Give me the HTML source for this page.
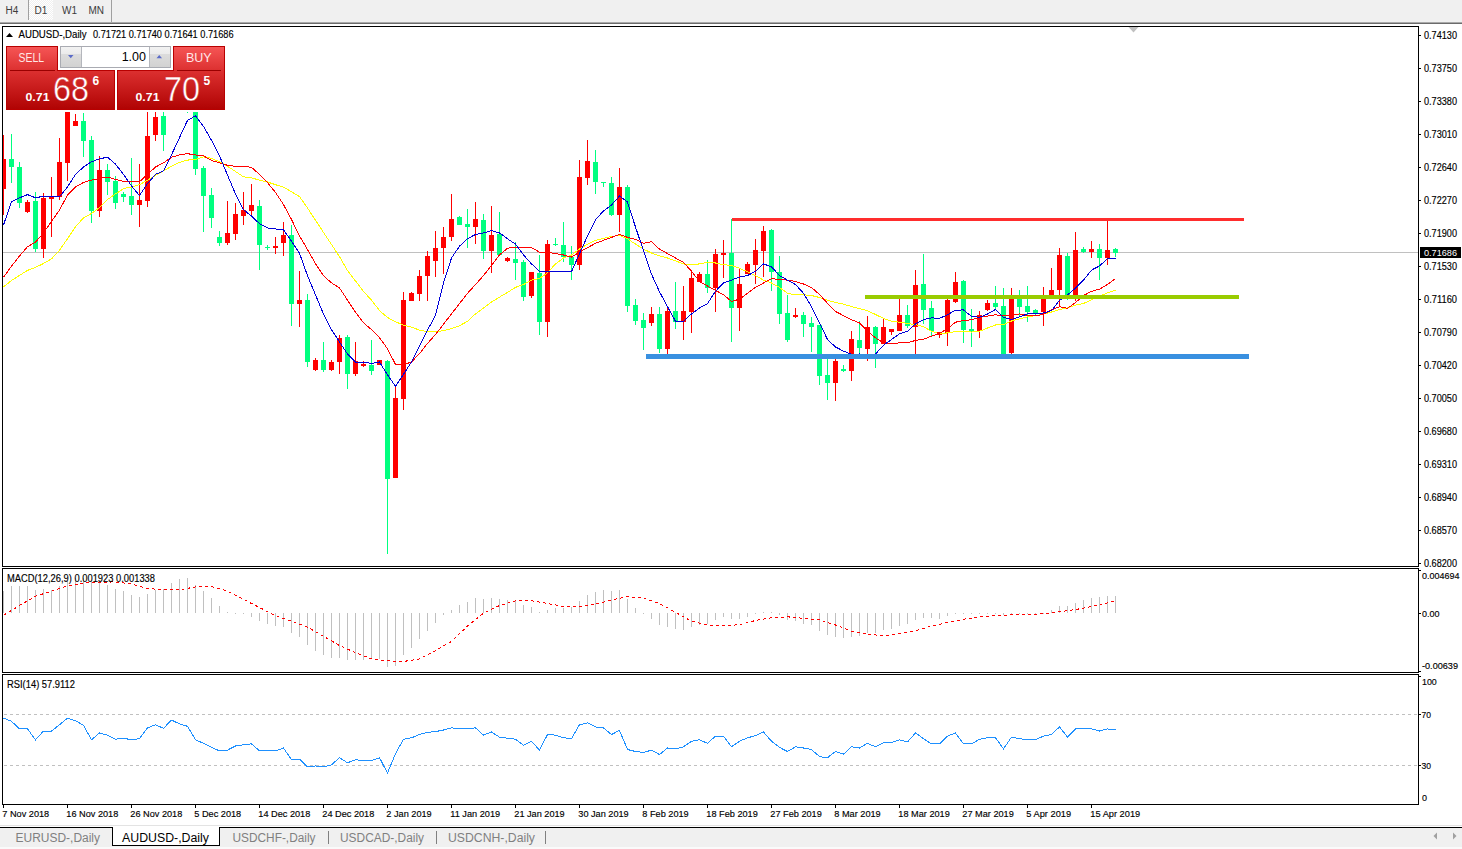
<!DOCTYPE html>
<html><head><meta charset="utf-8"><title>AUDUSD Daily</title>
<style>
html,body{margin:0;padding:0;background:#fff;}
body{width:1462px;height:849px;overflow:hidden;position:relative;font-family:"Liberation Sans", sans-serif;}
svg{position:absolute;left:0;top:0;}
.t{font-family:"Liberation Sans", sans-serif;} .b{stroke:#000;stroke-width:0.15;}
</style></head><body>
<svg width="1462" height="849" viewBox="0 0 1462 849">
<defs>
<clipPath id="cm"><rect x="3" y="27" width="1415" height="539"/></clipPath>
<clipPath id="cmacd"><rect x="3" y="569" width="1415" height="102"/></clipPath>
<clipPath id="crsi"><rect x="3" y="675" width="1415" height="129"/></clipPath>
<linearGradient id="gr" x1="0" y1="0" x2="0" y2="1">
<stop offset="0" stop-color="#f65656"/><stop offset="0.37" stop-color="#dd3131"/><stop offset="1" stop-color="#b00303"/>
</linearGradient>
<linearGradient id="gbtn" x1="0" y1="0" x2="0" y2="1">
<stop offset="0" stop-color="#f2f2f2"/><stop offset="0.35" stop-color="#ebebeb"/><stop offset="0.36" stop-color="#dcdcdc"/><stop offset="1" stop-color="#d2d2d2"/>
</linearGradient>
<linearGradient id="gru" gradientUnits="userSpaceOnUse" x1="0" y1="46" x2="0" y2="110">
<stop offset="0" stop-color="#f65656"/><stop offset="0.37" stop-color="#dd3131"/><stop offset="1" stop-color="#b00303"/>
</linearGradient>
<pattern id="dots" width="2" height="2" patternUnits="userSpaceOnUse"><rect width="2" height="2" fill="#f0f0f0"/><rect width="1" height="1" fill="#ffffff"/><rect x="1" y="1" width="1" height="1" fill="#ffffff"/></pattern>
</defs>

<g shape-rendering="crispEdges">
<rect x="0" y="0" width="1462" height="22" fill="#f0f0f0"/>
<rect x="0" y="22" width="1462" height="1" fill="#a9a9a9"/>
<rect x="0" y="23" width="1462" height="1" fill="#6b6b6b"/>
<rect x="29" y="0" width="24" height="20" fill="url(#dots)"/>
<rect x="28" y="0" width="1" height="20" fill="#a0a0a0"/>
<rect x="111" y="0" width="1" height="22" fill="#a0a0a0"/>
</g>
<text class="t" x="5.5" y="14" font-size="10" fill="#3c3c3c">H4</text>
<text class="t" x="34.5" y="14" font-size="10" fill="#3c3c3c">D1</text>
<text class="t" x="62" y="14" font-size="10" fill="#3c3c3c">W1</text>
<text class="t" x="88.5" y="14" font-size="10" fill="#3c3c3c">MN</text>
<g shape-rendering="crispEdges" fill="none" stroke="#000" stroke-width="1">
<rect x="2.5" y="26.5" width="1416" height="540"/>
<rect x="2.5" y="568.5" width="1416" height="104"/>
<rect x="2.5" y="674.5" width="1416" height="130"/>
</g>
<g shape-rendering="crispEdges" fill="#000">
<rect x="1419" y="35" width="2" height="1"/>
<rect x="1419" y="68" width="2" height="1"/>
<rect x="1419" y="101" width="2" height="1"/>
<rect x="1419" y="134" width="2" height="1"/>
<rect x="1419" y="167" width="2" height="1"/>
<rect x="1419" y="200" width="2" height="1"/>
<rect x="1419" y="233" width="2" height="1"/>
<rect x="1419" y="266" width="2" height="1"/>
<rect x="1419" y="299" width="2" height="1"/>
<rect x="1419" y="332" width="2" height="1"/>
<rect x="1419" y="365" width="2" height="1"/>
<rect x="1419" y="398" width="2" height="1"/>
<rect x="1419" y="431" width="2" height="1"/>
<rect x="1419" y="464" width="2" height="1"/>
<rect x="1419" y="497" width="2" height="1"/>
<rect x="1419" y="530" width="2" height="1"/>
<rect x="1419" y="563" width="2" height="1"/>
</g>
<text class="t b" x="1424" y="39" font-size="10" fill="#000" textLength="33" lengthAdjust="spacingAndGlyphs">0.74130</text>
<text class="t b" x="1424" y="72" font-size="10" fill="#000" textLength="33" lengthAdjust="spacingAndGlyphs">0.73750</text>
<text class="t b" x="1424" y="105" font-size="10" fill="#000" textLength="33" lengthAdjust="spacingAndGlyphs">0.73380</text>
<text class="t b" x="1424" y="138" font-size="10" fill="#000" textLength="33" lengthAdjust="spacingAndGlyphs">0.73010</text>
<text class="t b" x="1424" y="171" font-size="10" fill="#000" textLength="33" lengthAdjust="spacingAndGlyphs">0.72640</text>
<text class="t b" x="1424" y="204" font-size="10" fill="#000" textLength="33" lengthAdjust="spacingAndGlyphs">0.72270</text>
<text class="t b" x="1424" y="237" font-size="10" fill="#000" textLength="33" lengthAdjust="spacingAndGlyphs">0.71900</text>
<text class="t b" x="1424" y="270" font-size="10" fill="#000" textLength="33" lengthAdjust="spacingAndGlyphs">0.71530</text>
<text class="t b" x="1424" y="303" font-size="10" fill="#000" textLength="33" lengthAdjust="spacingAndGlyphs">0.71160</text>
<text class="t b" x="1424" y="336" font-size="10" fill="#000" textLength="33" lengthAdjust="spacingAndGlyphs">0.70790</text>
<text class="t b" x="1424" y="369" font-size="10" fill="#000" textLength="33" lengthAdjust="spacingAndGlyphs">0.70420</text>
<text class="t b" x="1424" y="402" font-size="10" fill="#000" textLength="33" lengthAdjust="spacingAndGlyphs">0.70050</text>
<text class="t b" x="1424" y="435" font-size="10" fill="#000" textLength="33" lengthAdjust="spacingAndGlyphs">0.69680</text>
<text class="t b" x="1424" y="468" font-size="10" fill="#000" textLength="33" lengthAdjust="spacingAndGlyphs">0.69310</text>
<text class="t b" x="1424" y="501" font-size="10" fill="#000" textLength="33" lengthAdjust="spacingAndGlyphs">0.68940</text>
<text class="t b" x="1424" y="534" font-size="10" fill="#000" textLength="33" lengthAdjust="spacingAndGlyphs">0.68570</text>
<text class="t b" x="1424" y="567" font-size="10" fill="#000" textLength="33" lengthAdjust="spacingAndGlyphs">0.68200</text>
<rect x="3" y="252" width="1415" height="1" fill="#c0c0c0" shape-rendering="crispEdges"/>
<rect x="1420" y="247" width="41" height="11" fill="#000" shape-rendering="crispEdges"/>
<text class="t" x="1424" y="255.5" font-size="9.7" fill="#fff" textLength="33" lengthAdjust="spacingAndGlyphs">0.71686</text>
<g shape-rendering="crispEdges" fill="#000">
<rect x="1419" y="570" width="2" height="1"/>
<rect x="1419" y="613" width="2" height="1"/>
<rect x="1419" y="671" width="2" height="1"/>
<rect x="1419" y="676" width="2" height="1"/>
</g>
<text class="t b" x="1422" y="578.5" font-size="9.7" fill="#000" textLength="37.5" lengthAdjust="spacingAndGlyphs">0.004694</text>
<text class="t b" x="1422" y="616.8" font-size="9.7" fill="#000" textLength="17.5" lengthAdjust="spacingAndGlyphs">0.00</text>
<text class="t b" x="1422" y="668.6" font-size="9.7" fill="#000" textLength="36" lengthAdjust="spacingAndGlyphs">-0.00639</text>
<text class="t b" x="1422" y="685" font-size="9.7" fill="#000" textLength="14.8" lengthAdjust="spacingAndGlyphs">100</text>
<text class="t b" x="1421.5" y="718" font-size="9.7" fill="#000" textLength="9.5" lengthAdjust="spacingAndGlyphs">70</text>
<text class="t b" x="1421.5" y="769" font-size="9.7" fill="#000" textLength="9.5" lengthAdjust="spacingAndGlyphs">30</text>
<text class="t b" x="1422" y="801" font-size="9.7" fill="#000" textLength="5" lengthAdjust="spacingAndGlyphs">0</text>
<g shape-rendering="crispEdges" fill="#000">
<rect x="1419" y="714" width="2" height="1"/>
<rect x="1419" y="765" width="2" height="1"/>
</g>
<g shape-rendering="crispEdges" fill="#000">
<rect x="3" y="805" width="1" height="3"/>
<rect x="67" y="805" width="1" height="3"/>
<rect x="131" y="805" width="1" height="3"/>
<rect x="195" y="805" width="1" height="3"/>
<rect x="259" y="805" width="1" height="3"/>
<rect x="323" y="805" width="1" height="3"/>
<rect x="387" y="805" width="1" height="3"/>
<rect x="451" y="805" width="1" height="3"/>
<rect x="515" y="805" width="1" height="3"/>
<rect x="579" y="805" width="1" height="3"/>
<rect x="643" y="805" width="1" height="3"/>
<rect x="707" y="805" width="1" height="3"/>
<rect x="771" y="805" width="1" height="3"/>
<rect x="835" y="805" width="1" height="3"/>
<rect x="899" y="805" width="1" height="3"/>
<rect x="963" y="805" width="1" height="3"/>
<rect x="1027" y="805" width="1" height="3"/>
<rect x="1091" y="805" width="1" height="3"/>
</g>
<text class="t b" x="2.3" y="817" font-size="9.7" fill="#000" textLength="46.9" lengthAdjust="spacingAndGlyphs">7 Nov 2018</text>
<text class="t b" x="66.3" y="817" font-size="9.7" fill="#000" textLength="52.0" lengthAdjust="spacingAndGlyphs">16 Nov 2018</text>
<text class="t b" x="130.3" y="817" font-size="9.7" fill="#000" textLength="52.0" lengthAdjust="spacingAndGlyphs">26 Nov 2018</text>
<text class="t b" x="194.3" y="817" font-size="9.7" fill="#000" textLength="46.9" lengthAdjust="spacingAndGlyphs">5 Dec 2018</text>
<text class="t b" x="258.3" y="817" font-size="9.7" fill="#000" textLength="52.0" lengthAdjust="spacingAndGlyphs">14 Dec 2018</text>
<text class="t b" x="322.3" y="817" font-size="9.7" fill="#000" textLength="52.0" lengthAdjust="spacingAndGlyphs">24 Dec 2018</text>
<text class="t b" x="386.3" y="817" font-size="9.7" fill="#000" textLength="45.4" lengthAdjust="spacingAndGlyphs">2 Jan 2019</text>
<text class="t b" x="450.3" y="817" font-size="9.7" fill="#000" textLength="49.8" lengthAdjust="spacingAndGlyphs">11 Jan 2019</text>
<text class="t b" x="514.3" y="817" font-size="9.7" fill="#000" textLength="50.4" lengthAdjust="spacingAndGlyphs">21 Jan 2019</text>
<text class="t b" x="578.3" y="817" font-size="9.7" fill="#000" textLength="50.4" lengthAdjust="spacingAndGlyphs">30 Jan 2019</text>
<text class="t b" x="642.3" y="817" font-size="9.7" fill="#000" textLength="46.4" lengthAdjust="spacingAndGlyphs">8 Feb 2019</text>
<text class="t b" x="706.3" y="817" font-size="9.7" fill="#000" textLength="51.5" lengthAdjust="spacingAndGlyphs">18 Feb 2019</text>
<text class="t b" x="770.3" y="817" font-size="9.7" fill="#000" textLength="51.5" lengthAdjust="spacingAndGlyphs">27 Feb 2019</text>
<text class="t b" x="834.3" y="817" font-size="9.7" fill="#000" textLength="46.4" lengthAdjust="spacingAndGlyphs">8 Mar 2019</text>
<text class="t b" x="898.3" y="817" font-size="9.7" fill="#000" textLength="51.5" lengthAdjust="spacingAndGlyphs">18 Mar 2019</text>
<text class="t b" x="962.3" y="817" font-size="9.7" fill="#000" textLength="51.5" lengthAdjust="spacingAndGlyphs">27 Mar 2019</text>
<text class="t b" x="1026.3" y="817" font-size="9.7" fill="#000" textLength="44.8" lengthAdjust="spacingAndGlyphs">5 Apr 2019</text>
<text class="t b" x="1090.3" y="817" font-size="9.7" fill="#000" textLength="49.9" lengthAdjust="spacingAndGlyphs">15 Apr 2019</text>
<g clip-path="url(#cm)">
<g shape-rendering="crispEdges">
<rect x="3" y="135" width="1" height="80" fill="#ff0000"/>
<rect x="1" y="159" width="5" height="30" fill="#ff0000"/>
<rect x="11" y="134" width="1" height="49" fill="#00ff7f"/>
<rect x="9" y="159" width="5" height="8" fill="#00ff7f"/>
<rect x="19" y="162" width="1" height="46" fill="#00ff7f"/>
<rect x="17" y="167" width="5" height="36" fill="#00ff7f"/>
<rect x="27" y="200" width="1" height="13" fill="#ff0000"/>
<rect x="25" y="202" width="5" height="10" fill="#ff0000"/>
<rect x="35" y="192" width="1" height="60" fill="#00ff7f"/>
<rect x="33" y="201" width="5" height="48" fill="#00ff7f"/>
<rect x="43" y="193" width="1" height="65" fill="#ff0000"/>
<rect x="41" y="198" width="5" height="51" fill="#ff0000"/>
<rect x="51" y="177" width="1" height="60" fill="#ff0000"/>
<rect x="49" y="197" width="5" height="2" fill="#ff0000"/>
<rect x="59" y="138" width="1" height="62" fill="#ff0000"/>
<rect x="57" y="162" width="5" height="35" fill="#ff0000"/>
<rect x="67" y="100" width="1" height="81" fill="#ff0000"/>
<rect x="65" y="105" width="5" height="58" fill="#ff0000"/>
<rect x="75" y="114" width="1" height="12" fill="#ff0000"/>
<rect x="73" y="121" width="5" height="5" fill="#ff0000"/>
<rect x="83" y="113" width="1" height="44" fill="#00ff7f"/>
<rect x="81" y="121" width="5" height="20" fill="#00ff7f"/>
<rect x="91" y="136" width="1" height="87" fill="#00ff7f"/>
<rect x="89" y="140" width="5" height="71" fill="#00ff7f"/>
<rect x="99" y="156" width="1" height="61" fill="#ff0000"/>
<rect x="97" y="170" width="5" height="41" fill="#ff0000"/>
<rect x="107" y="164" width="1" height="31" fill="#00ff7f"/>
<rect x="105" y="170" width="5" height="12" fill="#00ff7f"/>
<rect x="115" y="176" width="1" height="33" fill="#00ff7f"/>
<rect x="113" y="181" width="5" height="22" fill="#00ff7f"/>
<rect x="123" y="192" width="1" height="10" fill="#00ff7f"/>
<rect x="121" y="194" width="5" height="3" fill="#00ff7f"/>
<rect x="131" y="158" width="1" height="57" fill="#00ff7f"/>
<rect x="129" y="196" width="5" height="9" fill="#00ff7f"/>
<rect x="139" y="164" width="1" height="63" fill="#ff0000"/>
<rect x="137" y="200" width="5" height="5" fill="#ff0000"/>
<rect x="147" y="100" width="1" height="107" fill="#ff0000"/>
<rect x="145" y="136" width="5" height="65" fill="#ff0000"/>
<rect x="155" y="100" width="1" height="41" fill="#ff0000"/>
<rect x="153" y="117" width="5" height="18" fill="#ff0000"/>
<rect x="163" y="100" width="1" height="51" fill="#00ff7f"/>
<rect x="161" y="116" width="5" height="19" fill="#00ff7f"/>
<rect x="171" y="60" width="1" height="30" fill="#00ff7f"/>
<rect x="169" y="70" width="5" height="10" fill="#00ff7f"/>
<rect x="179" y="60" width="1" height="30" fill="#ff0000"/>
<rect x="177" y="70" width="5" height="10" fill="#ff0000"/>
<rect x="187" y="60" width="1" height="53" fill="#00ff7f"/>
<rect x="185" y="70" width="5" height="20" fill="#00ff7f"/>
<rect x="195" y="100" width="1" height="75" fill="#00ff7f"/>
<rect x="193" y="100" width="5" height="69" fill="#00ff7f"/>
<rect x="203" y="166" width="1" height="66" fill="#00ff7f"/>
<rect x="201" y="168" width="5" height="28" fill="#00ff7f"/>
<rect x="211" y="188" width="1" height="40" fill="#00ff7f"/>
<rect x="209" y="195" width="5" height="23" fill="#00ff7f"/>
<rect x="219" y="231" width="1" height="15" fill="#00ff7f"/>
<rect x="217" y="237" width="5" height="6" fill="#00ff7f"/>
<rect x="227" y="201" width="1" height="44" fill="#ff0000"/>
<rect x="225" y="233" width="5" height="10" fill="#ff0000"/>
<rect x="235" y="203" width="1" height="37" fill="#ff0000"/>
<rect x="233" y="214" width="5" height="20" fill="#ff0000"/>
<rect x="243" y="192" width="1" height="33" fill="#ff0000"/>
<rect x="241" y="210" width="5" height="6" fill="#ff0000"/>
<rect x="251" y="184" width="1" height="31" fill="#ff0000"/>
<rect x="249" y="205" width="5" height="6" fill="#ff0000"/>
<rect x="259" y="200" width="1" height="70" fill="#00ff7f"/>
<rect x="257" y="206" width="5" height="39" fill="#00ff7f"/>
<rect x="267" y="245" width="1" height="5" fill="#00ff7f"/>
<rect x="265" y="247" width="5" height="1" fill="#00ff7f"/>
<rect x="275" y="237" width="1" height="17" fill="#ff0000"/>
<rect x="273" y="246" width="5" height="2" fill="#ff0000"/>
<rect x="283" y="222" width="1" height="34" fill="#ff0000"/>
<rect x="281" y="235" width="5" height="8" fill="#ff0000"/>
<rect x="291" y="225" width="1" height="101" fill="#00ff7f"/>
<rect x="289" y="235" width="5" height="69" fill="#00ff7f"/>
<rect x="299" y="271" width="1" height="56" fill="#ff0000"/>
<rect x="297" y="300" width="5" height="4" fill="#ff0000"/>
<rect x="307" y="294" width="1" height="73" fill="#00ff7f"/>
<rect x="305" y="300" width="5" height="62" fill="#00ff7f"/>
<rect x="315" y="358" width="1" height="13" fill="#ff0000"/>
<rect x="313" y="360" width="5" height="10" fill="#ff0000"/>
<rect x="323" y="342" width="1" height="30" fill="#00ff7f"/>
<rect x="321" y="360" width="5" height="10" fill="#00ff7f"/>
<rect x="331" y="360" width="1" height="11" fill="#ff0000"/>
<rect x="329" y="362" width="5" height="8" fill="#ff0000"/>
<rect x="339" y="335" width="1" height="39" fill="#ff0000"/>
<rect x="337" y="338" width="5" height="24" fill="#ff0000"/>
<rect x="347" y="335" width="1" height="54" fill="#00ff7f"/>
<rect x="345" y="337" width="5" height="37" fill="#00ff7f"/>
<rect x="355" y="342" width="1" height="34" fill="#ff0000"/>
<rect x="353" y="361" width="5" height="13" fill="#ff0000"/>
<rect x="363" y="361" width="1" height="6" fill="#ff0000"/>
<rect x="361" y="364" width="5" height="2" fill="#ff0000"/>
<rect x="371" y="340" width="1" height="35" fill="#00ff7f"/>
<rect x="369" y="365" width="5" height="6" fill="#00ff7f"/>
<rect x="379" y="360" width="1" height="5" fill="#ff0000"/>
<rect x="377" y="360" width="5" height="5" fill="#ff0000"/>
<rect x="387" y="360" width="1" height="194" fill="#00ff7f"/>
<rect x="385" y="361" width="5" height="118" fill="#00ff7f"/>
<rect x="395" y="386" width="1" height="92" fill="#ff0000"/>
<rect x="393" y="398" width="5" height="80" fill="#ff0000"/>
<rect x="403" y="292" width="1" height="118" fill="#ff0000"/>
<rect x="401" y="300" width="5" height="99" fill="#ff0000"/>
<rect x="411" y="292" width="1" height="9" fill="#ff0000"/>
<rect x="409" y="293" width="5" height="8" fill="#ff0000"/>
<rect x="419" y="270" width="1" height="31" fill="#ff0000"/>
<rect x="417" y="276" width="5" height="18" fill="#ff0000"/>
<rect x="427" y="251" width="1" height="50" fill="#ff0000"/>
<rect x="425" y="256" width="5" height="20" fill="#ff0000"/>
<rect x="435" y="231" width="1" height="46" fill="#ff0000"/>
<rect x="433" y="248" width="5" height="13" fill="#ff0000"/>
<rect x="443" y="227" width="1" height="47" fill="#ff0000"/>
<rect x="441" y="237" width="5" height="11" fill="#ff0000"/>
<rect x="451" y="194" width="1" height="47" fill="#ff0000"/>
<rect x="449" y="219" width="5" height="18" fill="#ff0000"/>
<rect x="459" y="216" width="1" height="9" fill="#00ff7f"/>
<rect x="457" y="217" width="5" height="8" fill="#00ff7f"/>
<rect x="467" y="209" width="1" height="39" fill="#00ff7f"/>
<rect x="465" y="224" width="5" height="3" fill="#00ff7f"/>
<rect x="475" y="202" width="1" height="42" fill="#ff0000"/>
<rect x="473" y="219" width="5" height="8" fill="#ff0000"/>
<rect x="483" y="214" width="1" height="45" fill="#00ff7f"/>
<rect x="481" y="220" width="5" height="31" fill="#00ff7f"/>
<rect x="491" y="206" width="1" height="67" fill="#ff0000"/>
<rect x="489" y="235" width="5" height="16" fill="#ff0000"/>
<rect x="499" y="212" width="1" height="43" fill="#00ff7f"/>
<rect x="497" y="234" width="5" height="21" fill="#00ff7f"/>
<rect x="507" y="257" width="1" height="5" fill="#ff0000"/>
<rect x="505" y="258" width="5" height="3" fill="#ff0000"/>
<rect x="515" y="242" width="1" height="38" fill="#00ff7f"/>
<rect x="513" y="259" width="5" height="4" fill="#00ff7f"/>
<rect x="523" y="260" width="1" height="41" fill="#00ff7f"/>
<rect x="521" y="262" width="5" height="35" fill="#00ff7f"/>
<rect x="531" y="272" width="1" height="26" fill="#ff0000"/>
<rect x="529" y="272" width="5" height="24" fill="#ff0000"/>
<rect x="539" y="255" width="1" height="80" fill="#00ff7f"/>
<rect x="537" y="273" width="5" height="49" fill="#00ff7f"/>
<rect x="547" y="240" width="1" height="97" fill="#ff0000"/>
<rect x="545" y="244" width="5" height="78" fill="#ff0000"/>
<rect x="555" y="238" width="1" height="8" fill="#00ff7f"/>
<rect x="553" y="244" width="5" height="1" fill="#00ff7f"/>
<rect x="563" y="222" width="1" height="40" fill="#00ff7f"/>
<rect x="561" y="245" width="5" height="12" fill="#00ff7f"/>
<rect x="571" y="246" width="1" height="34" fill="#00ff7f"/>
<rect x="569" y="257" width="5" height="8" fill="#00ff7f"/>
<rect x="579" y="160" width="1" height="110" fill="#ff0000"/>
<rect x="577" y="177" width="5" height="88" fill="#ff0000"/>
<rect x="587" y="140" width="1" height="45" fill="#ff0000"/>
<rect x="585" y="161" width="5" height="17" fill="#ff0000"/>
<rect x="595" y="150" width="1" height="44" fill="#00ff7f"/>
<rect x="593" y="162" width="5" height="20" fill="#00ff7f"/>
<rect x="603" y="182" width="1" height="5" fill="#00ff7f"/>
<rect x="601" y="182" width="5" height="1" fill="#00ff7f"/>
<rect x="611" y="177" width="1" height="39" fill="#00ff7f"/>
<rect x="609" y="183" width="5" height="32" fill="#00ff7f"/>
<rect x="619" y="168" width="1" height="64" fill="#ff0000"/>
<rect x="617" y="187" width="5" height="28" fill="#ff0000"/>
<rect x="627" y="185" width="1" height="127" fill="#00ff7f"/>
<rect x="625" y="187" width="5" height="119" fill="#00ff7f"/>
<rect x="635" y="299" width="1" height="26" fill="#00ff7f"/>
<rect x="633" y="305" width="5" height="16" fill="#00ff7f"/>
<rect x="643" y="313" width="1" height="37" fill="#00ff7f"/>
<rect x="641" y="320" width="5" height="8" fill="#00ff7f"/>
<rect x="651" y="307" width="1" height="19" fill="#ff0000"/>
<rect x="649" y="314" width="5" height="9" fill="#ff0000"/>
<rect x="659" y="307" width="1" height="46" fill="#00ff7f"/>
<rect x="657" y="314" width="5" height="35" fill="#00ff7f"/>
<rect x="667" y="307" width="1" height="47" fill="#ff0000"/>
<rect x="665" y="311" width="5" height="38" fill="#ff0000"/>
<rect x="675" y="282" width="1" height="47" fill="#00ff7f"/>
<rect x="673" y="311" width="5" height="11" fill="#00ff7f"/>
<rect x="683" y="286" width="1" height="54" fill="#ff0000"/>
<rect x="681" y="311" width="5" height="11" fill="#ff0000"/>
<rect x="691" y="271" width="1" height="62" fill="#ff0000"/>
<rect x="689" y="278" width="5" height="34" fill="#ff0000"/>
<rect x="699" y="272" width="1" height="10" fill="#ff0000"/>
<rect x="697" y="274" width="5" height="8" fill="#ff0000"/>
<rect x="707" y="260" width="1" height="33" fill="#00ff7f"/>
<rect x="705" y="274" width="5" height="14" fill="#00ff7f"/>
<rect x="715" y="249" width="1" height="63" fill="#ff0000"/>
<rect x="713" y="254" width="5" height="34" fill="#ff0000"/>
<rect x="723" y="240" width="1" height="38" fill="#ff0000"/>
<rect x="721" y="253" width="5" height="2" fill="#ff0000"/>
<rect x="731" y="219" width="1" height="123" fill="#00ff7f"/>
<rect x="729" y="253" width="5" height="55" fill="#00ff7f"/>
<rect x="739" y="269" width="1" height="62" fill="#ff0000"/>
<rect x="737" y="284" width="5" height="24" fill="#ff0000"/>
<rect x="747" y="262" width="1" height="12" fill="#ff0000"/>
<rect x="745" y="264" width="5" height="10" fill="#ff0000"/>
<rect x="755" y="239" width="1" height="45" fill="#ff0000"/>
<rect x="753" y="250" width="5" height="15" fill="#ff0000"/>
<rect x="763" y="226" width="1" height="51" fill="#ff0000"/>
<rect x="761" y="231" width="5" height="20" fill="#ff0000"/>
<rect x="771" y="229" width="1" height="62" fill="#00ff7f"/>
<rect x="769" y="230" width="5" height="42" fill="#00ff7f"/>
<rect x="779" y="256" width="1" height="68" fill="#00ff7f"/>
<rect x="777" y="272" width="5" height="42" fill="#00ff7f"/>
<rect x="787" y="295" width="1" height="47" fill="#00ff7f"/>
<rect x="785" y="313" width="5" height="27" fill="#00ff7f"/>
<rect x="795" y="308" width="1" height="10" fill="#ff0000"/>
<rect x="793" y="315" width="5" height="2" fill="#ff0000"/>
<rect x="803" y="312" width="1" height="25" fill="#00ff7f"/>
<rect x="801" y="315" width="5" height="9" fill="#00ff7f"/>
<rect x="811" y="317" width="1" height="35" fill="#00ff7f"/>
<rect x="809" y="323" width="5" height="4" fill="#00ff7f"/>
<rect x="819" y="325" width="1" height="60" fill="#00ff7f"/>
<rect x="817" y="325" width="5" height="51" fill="#00ff7f"/>
<rect x="827" y="354" width="1" height="46" fill="#00ff7f"/>
<rect x="825" y="375" width="5" height="8" fill="#00ff7f"/>
<rect x="835" y="359" width="1" height="42" fill="#ff0000"/>
<rect x="833" y="361" width="5" height="22" fill="#ff0000"/>
<rect x="843" y="365" width="1" height="7" fill="#00ff7f"/>
<rect x="841" y="369" width="5" height="2" fill="#00ff7f"/>
<rect x="851" y="331" width="1" height="50" fill="#ff0000"/>
<rect x="849" y="339" width="5" height="32" fill="#ff0000"/>
<rect x="859" y="321" width="1" height="33" fill="#00ff7f"/>
<rect x="857" y="340" width="5" height="8" fill="#00ff7f"/>
<rect x="867" y="316" width="1" height="45" fill="#ff0000"/>
<rect x="865" y="327" width="5" height="22" fill="#ff0000"/>
<rect x="875" y="326" width="1" height="42" fill="#00ff7f"/>
<rect x="873" y="327" width="5" height="17" fill="#00ff7f"/>
<rect x="883" y="318" width="1" height="26" fill="#ff0000"/>
<rect x="881" y="327" width="5" height="17" fill="#ff0000"/>
<rect x="891" y="329" width="1" height="6" fill="#ff0000"/>
<rect x="889" y="329" width="5" height="3" fill="#ff0000"/>
<rect x="899" y="299" width="1" height="32" fill="#ff0000"/>
<rect x="897" y="315" width="5" height="16" fill="#ff0000"/>
<rect x="907" y="305" width="1" height="23" fill="#00ff7f"/>
<rect x="905" y="315" width="5" height="11" fill="#00ff7f"/>
<rect x="915" y="270" width="1" height="84" fill="#ff0000"/>
<rect x="913" y="285" width="5" height="42" fill="#ff0000"/>
<rect x="923" y="254" width="1" height="70" fill="#00ff7f"/>
<rect x="921" y="284" width="5" height="26" fill="#00ff7f"/>
<rect x="931" y="301" width="1" height="35" fill="#00ff7f"/>
<rect x="929" y="308" width="5" height="23" fill="#00ff7f"/>
<rect x="939" y="332" width="1" height="6" fill="#ff0000"/>
<rect x="937" y="332" width="5" height="3" fill="#ff0000"/>
<rect x="947" y="299" width="1" height="47" fill="#ff0000"/>
<rect x="945" y="300" width="5" height="33" fill="#ff0000"/>
<rect x="955" y="272" width="1" height="31" fill="#ff0000"/>
<rect x="953" y="282" width="5" height="20" fill="#ff0000"/>
<rect x="963" y="280" width="1" height="63" fill="#00ff7f"/>
<rect x="961" y="281" width="5" height="49" fill="#00ff7f"/>
<rect x="971" y="309" width="1" height="38" fill="#00ff7f"/>
<rect x="969" y="329" width="5" height="2" fill="#00ff7f"/>
<rect x="979" y="311" width="1" height="27" fill="#ff0000"/>
<rect x="977" y="315" width="5" height="16" fill="#ff0000"/>
<rect x="987" y="300" width="1" height="11" fill="#ff0000"/>
<rect x="985" y="303" width="5" height="7" fill="#ff0000"/>
<rect x="995" y="286" width="1" height="23" fill="#00ff7f"/>
<rect x="993" y="303" width="5" height="4" fill="#00ff7f"/>
<rect x="1003" y="288" width="1" height="66" fill="#00ff7f"/>
<rect x="1001" y="306" width="5" height="48" fill="#00ff7f"/>
<rect x="1011" y="288" width="1" height="66" fill="#ff0000"/>
<rect x="1009" y="299" width="5" height="54" fill="#ff0000"/>
<rect x="1019" y="290" width="1" height="26" fill="#00ff7f"/>
<rect x="1017" y="299" width="5" height="8" fill="#00ff7f"/>
<rect x="1027" y="286" width="1" height="36" fill="#00ff7f"/>
<rect x="1025" y="306" width="5" height="6" fill="#00ff7f"/>
<rect x="1035" y="309" width="1" height="7" fill="#00ff7f"/>
<rect x="1033" y="310" width="5" height="4" fill="#00ff7f"/>
<rect x="1043" y="287" width="1" height="39" fill="#ff0000"/>
<rect x="1041" y="299" width="5" height="13" fill="#ff0000"/>
<rect x="1051" y="268" width="1" height="30" fill="#ff0000"/>
<rect x="1049" y="290" width="5" height="8" fill="#ff0000"/>
<rect x="1059" y="248" width="1" height="59" fill="#ff0000"/>
<rect x="1057" y="255" width="5" height="35" fill="#ff0000"/>
<rect x="1067" y="253" width="1" height="47" fill="#00ff7f"/>
<rect x="1065" y="256" width="5" height="39" fill="#00ff7f"/>
<rect x="1075" y="232" width="1" height="69" fill="#ff0000"/>
<rect x="1073" y="250" width="5" height="46" fill="#ff0000"/>
<rect x="1083" y="247" width="1" height="6" fill="#00ff7f"/>
<rect x="1081" y="249" width="5" height="3" fill="#00ff7f"/>
<rect x="1091" y="241" width="1" height="17" fill="#ff0000"/>
<rect x="1089" y="249" width="5" height="3" fill="#ff0000"/>
<rect x="1099" y="244" width="1" height="36" fill="#00ff7f"/>
<rect x="1097" y="249" width="5" height="9" fill="#00ff7f"/>
<rect x="1107" y="221" width="1" height="44" fill="#ff0000"/>
<rect x="1105" y="250" width="5" height="8" fill="#ff0000"/>
<rect x="1115" y="248" width="1" height="9" fill="#00ff7f"/>
<rect x="1113" y="249" width="5" height="4" fill="#00ff7f"/>
</g>
<polyline points="3.5,286.9 11.5,280.5 19.5,275.4 27.5,270.4 35.5,267.4 43.5,263.5 51.5,258.9 59.5,250.2 67.5,238.7 75.5,226.7 83.5,218.0 91.5,213.4 99.5,207.7 107.5,199.6 115.5,193.9 123.5,188.6 131.5,187.0 139.5,184.7 147.5,180.1 155.5,175.5 163.5,170.9 171.5,166.3 179.5,162.4 187.5,160.1 195.5,159.4 203.5,156.9 211.5,158.3 219.5,161.8 227.5,166.3 235.5,171.5 243.5,176.8 251.5,177.8 259.5,180.2 267.5,182.0 275.5,184.7 283.5,187.2 291.5,191.7 299.5,196.6 307.5,208.0 315.5,220.2 323.5,232.4 331.5,244.5 339.5,256.7 347.5,270.6 355.5,281.0 363.5,291.5 371.5,300.1 379.5,310.6 387.5,317.5 395.5,321.7 403.5,325.2 411.5,327.2 419.5,330.1 427.5,331.6 435.5,331.6 443.5,330.7 451.5,328.7 459.5,325.7 467.5,321.3 475.5,313.9 483.5,308.0 491.5,302.1 499.5,297.1 507.5,292.4 515.5,287.4 523.5,284.5 531.5,280.1 539.5,278.6 547.5,272.7 555.5,263.9 563.5,258.0 571.5,255.0 579.5,249.1 587.5,244.1 595.5,240.3 603.5,238.3 611.5,236.5 619.5,235.3 627.5,238.8 635.5,244.1 643.5,249.1 651.5,253.0 659.5,255.9 667.5,258.0 675.5,260.9 683.5,263.9 691.5,264.8 699.5,263.9 707.5,262.4 715.5,263.0 723.5,264.8 731.5,265.3 739.5,268.3 747.5,271.8 755.5,275.6 763.5,280.1 771.5,283.0 779.5,287.4 787.5,293.3 795.5,294.8 803.5,294.8 811.5,295.5 819.5,297.5 827.5,300.3 835.5,302.4 843.5,304.1 851.5,306.6 859.5,308.5 867.5,310.7 875.5,314.5 883.5,318.4 891.5,321.1 899.5,322.2 907.5,323.4 915.5,324.7 923.5,326.7 931.5,331.3 939.5,333.8 947.5,332.9 955.5,331.6 963.5,331.3 971.5,332.1 979.5,331.3 987.5,328.0 995.5,325.0 1003.5,324.7 1011.5,321.0 1019.5,318.9 1027.5,316.8 1035.5,315.7 1043.5,314.1 1051.5,312.0 1059.5,309.7 1067.5,307.8 1075.5,305.1 1083.5,303.5 1091.5,299.8 1099.5,296.1 1107.5,292.9 1115.5,290.3" fill="none" stroke="#ffff00" stroke-width="1" shape-rendering="crispEdges"/>
<polyline points="3.5,277.3 11.5,266.2 19.5,255.9 27.5,246.7 35.5,242.1 43.5,232.9 51.5,221.5 59.5,210.0 67.5,195.1 75.5,187.0 83.5,182.4 91.5,180.1 99.5,178.5 107.5,177.1 115.5,179.4 123.5,181.3 131.5,181.7 139.5,181.7 147.5,174.4 155.5,167.0 163.5,162.9 171.5,157.2 179.5,154.9 187.5,153.7 195.5,154.9 203.5,155.9 211.5,160.4 219.5,162.9 227.5,165.3 235.5,166.3 243.5,166.3 251.5,167.4 259.5,174.3 267.5,182.7 275.5,192.4 283.5,204.6 291.5,219.5 299.5,235.8 307.5,249.7 315.5,263.7 323.5,275.8 331.5,282.8 339.5,288.0 347.5,300.1 355.5,312.3 363.5,322.7 371.5,329.7 379.5,337.7 387.5,348.8 395.5,364.5 403.5,364.9 411.5,361.9 419.5,353.7 427.5,343.4 435.5,334.5 443.5,324.2 451.5,313.9 459.5,303.6 467.5,293.3 475.5,284.5 483.5,275.6 491.5,265.3 499.5,255.0 507.5,248.3 515.5,247.1 523.5,247.1 531.5,247.7 539.5,252.1 547.5,252.1 555.5,253.6 563.5,255.0 571.5,257.1 579.5,252.1 587.5,247.7 595.5,243.3 603.5,240.3 611.5,237.4 619.5,234.4 627.5,237.4 635.5,239.4 643.5,243.3 651.5,241.8 659.5,249.1 667.5,253.6 675.5,258.0 683.5,262.4 691.5,271.2 699.5,281.5 707.5,286.0 715.5,290.4 723.5,294.8 731.5,301.3 739.5,299.2 747.5,293.3 755.5,287.4 763.5,283.0 771.5,278.6 779.5,279.5 787.5,280.1 795.5,281.5 803.5,284.0 811.5,287.5 819.5,294.5 827.5,303.3 835.5,311.5 843.5,315.6 851.5,319.7 859.5,323.0 867.5,331.3 875.5,337.9 883.5,342.8 891.5,343.7 899.5,342.8 907.5,342.8 915.5,340.4 923.5,339.2 931.5,336.2 939.5,333.3 947.5,328.8 955.5,322.2 963.5,320.6 971.5,319.7 979.5,317.3 987.5,316.1 995.5,314.8 1003.5,315.7 1011.5,315.2 1019.5,313.9 1027.5,315.7 1035.5,316.0 1043.5,314.1 1051.5,309.9 1059.5,306.7 1067.5,308.3 1075.5,302.5 1083.5,295.6 1091.5,291.3 1099.5,289.2 1107.5,284.4 1115.5,278.6" fill="none" stroke="#ff0000" stroke-width="1" shape-rendering="crispEdges"/>
<polyline points="3.5,224.9 11.5,201.9 19.5,197.8 27.5,194.6 35.5,197.8 43.5,196.2 51.5,196.9 59.5,196.9 67.5,187.0 75.5,174.4 83.5,167.0 91.5,161.8 99.5,158.8 107.5,157.2 115.5,164.1 123.5,174.4 131.5,185.9 139.5,195.5 147.5,183.6 155.5,174.4 163.5,170.9 171.5,154.9 179.5,137.6 187.5,120.4 195.5,115.8 203.5,126.4 211.5,140.3 219.5,155.9 227.5,175.0 235.5,194.1 243.5,209.8 251.5,216.0 259.5,223.7 267.5,227.9 275.5,228.9 283.5,229.9 291.5,241.1 299.5,253.2 307.5,275.8 315.5,294.9 323.5,314.0 331.5,329.7 339.5,341.9 347.5,354.0 355.5,362.0 363.5,362.0 371.5,363.4 379.5,362.0 387.5,374.9 395.5,386.3 403.5,374.3 411.5,361.9 419.5,346.3 427.5,330.1 435.5,315.4 443.5,283.0 451.5,258.0 459.5,246.2 467.5,238.8 475.5,234.4 483.5,232.9 491.5,230.6 499.5,232.9 507.5,238.8 515.5,244.1 523.5,255.0 531.5,263.9 539.5,271.2 547.5,271.8 555.5,271.8 563.5,271.8 571.5,271.8 579.5,253.6 587.5,235.9 595.5,219.7 603.5,210.9 611.5,205.0 619.5,196.1 627.5,202.0 635.5,227.1 643.5,250.6 651.5,274.2 659.5,291.8 667.5,306.6 675.5,321.3 683.5,321.3 691.5,313.9 699.5,308.0 707.5,303.6 715.5,291.3 723.5,283.0 731.5,280.1 739.5,277.1 747.5,275.6 755.5,271.2 763.5,263.9 771.5,266.8 779.5,275.6 787.5,280.1 795.5,284.5 803.5,293.3 811.5,306.6 819.5,323.0 827.5,339.5 835.5,347.0 843.5,351.1 851.5,354.4 859.5,354.0 867.5,354.4 875.5,354.0 883.5,345.3 891.5,339.5 899.5,333.8 907.5,331.3 915.5,323.9 923.5,319.7 931.5,317.8 939.5,318.4 947.5,314.8 955.5,310.2 963.5,309.9 971.5,316.5 979.5,317.3 987.5,314.0 995.5,309.5 1003.5,317.3 1011.5,319.4 1019.5,316.8 1027.5,313.9 1035.5,313.9 1043.5,312.9 1051.5,310.7 1059.5,300.3 1067.5,295.0 1075.5,288.1 1083.5,280.2 1091.5,270.1 1099.5,265.9 1107.5,258.8 1115.5,258.8" fill="none" stroke="#0000d8" stroke-width="1" shape-rendering="crispEdges"/>
<g shape-rendering="crispEdges">
<rect x="732" y="218" width="512" height="3" fill="#ff2d2d"/>
<rect x="865" y="295" width="374" height="4" fill="#99cc00"/>
<rect x="646" y="354" width="603" height="5" fill="#3990e0"/>
</g>
</g>
<rect x="3" y="27" width="226" height="85" fill="#fff"/>
<polygon points="6,37 9.5,33 13,37" fill="#000"/>
<text class="t b" x="18.5" y="38" font-size="10" fill="#000" textLength="68" lengthAdjust="spacingAndGlyphs">AUDUSD-,Daily</text>
<text class="t b" x="93" y="38" font-size="10" fill="#000" textLength="140.5" lengthAdjust="spacingAndGlyphs">0.71721 0.71740 0.71641 0.71686</text>
<g shape-rendering="crispEdges">
<path d="M6.5,46.5 H57.5 V70.5 H114.5 V109.5 H6.5 Z" fill="url(#gr)" stroke="#b80000"/>
<path d="M173.5,46.5 H224.5 V109.5 H117.5 V70.5 H173.5 Z" fill="url(#gr)" stroke="#b80000"/>
<rect x="10" y="70" width="45" height="1" fill="#9a0000"/>
<rect x="177" y="70" width="44" height="1" fill="#9a0000"/>
<rect x="60.5" y="46.5" width="110" height="21" fill="#fff" stroke="#a9abb2"/>
<rect x="61" y="47" width="20" height="20" fill="url(#gbtn)"/>
<rect x="150" y="47" width="20" height="20" fill="url(#gbtn)"/>
<rect x="81" y="47" width="1" height="20" fill="#b4b6bc"/>
<rect x="149" y="47" width="1" height="20" fill="#b4b6bc"/>
</g>
<polygon points="68,55 73.5,55 70.75,58.3" fill="#5a6bc8"/>
<polygon points="156.5,58.3 162,58.3 159.25,55" fill="#5a6bc8"/>
<text class="t" x="146" y="61.3" font-size="12.5" fill="#000" text-anchor="end">1.00</text>
<text class="t" x="18.5" y="62" font-size="12.5" fill="#ffe8e8" textLength="25.5" lengthAdjust="spacingAndGlyphs">SELL</text>
<text class="t" x="186" y="62" font-size="12.5" fill="#ffe8e8">BUY</text>
<text class="t" x="25.5" y="100.8" font-size="11.5" font-weight="bold" fill="#fff" textLength="24" lengthAdjust="spacingAndGlyphs">0.71</text>
<text class="t" x="53" y="100.8" font-size="34.5" fill="#fff" stroke="url(#gru)" stroke-width="0.45" textLength="36" lengthAdjust="spacingAndGlyphs">68</text>
<text class="t" x="92.5" y="85" font-size="12" font-weight="bold" fill="#fff">6</text>
<text class="t" x="135.5" y="100.8" font-size="11.5" font-weight="bold" fill="#fff" textLength="24" lengthAdjust="spacingAndGlyphs">0.71</text>
<text class="t" x="164" y="100.8" font-size="34.5" fill="#fff" stroke="url(#gru)" stroke-width="0.45" textLength="36" lengthAdjust="spacingAndGlyphs">70</text>
<text class="t" x="203.5" y="85" font-size="12" font-weight="bold" fill="#fff">5</text>
<polygon points="1128.5,27 1138.5,27 1133.5,32.5" fill="#c0c0c0"/>
<g clip-path="url(#cmacd)">
<g shape-rendering="crispEdges" fill="#c0c0c0">
<rect x="3" y="591" width="1" height="22"/>
<rect x="11" y="586" width="1" height="27"/>
<rect x="19" y="586" width="1" height="27"/>
<rect x="27" y="586" width="1" height="27"/>
<rect x="35" y="590" width="1" height="23"/>
<rect x="43" y="589" width="1" height="24"/>
<rect x="51" y="590" width="1" height="23"/>
<rect x="59" y="586" width="1" height="27"/>
<rect x="67" y="581" width="1" height="32"/>
<rect x="75" y="578" width="1" height="35"/>
<rect x="83" y="578" width="1" height="35"/>
<rect x="91" y="580" width="1" height="33"/>
<rect x="99" y="582" width="1" height="31"/>
<rect x="107" y="585" width="1" height="28"/>
<rect x="115" y="589" width="1" height="24"/>
<rect x="123" y="591" width="1" height="22"/>
<rect x="131" y="595" width="1" height="18"/>
<rect x="139" y="597" width="1" height="16"/>
<rect x="147" y="594" width="1" height="19"/>
<rect x="155" y="590" width="1" height="23"/>
<rect x="163" y="589" width="1" height="24"/>
<rect x="171" y="583" width="1" height="30"/>
<rect x="179" y="579" width="1" height="34"/>
<rect x="187" y="578" width="1" height="35"/>
<rect x="195" y="585" width="1" height="28"/>
<rect x="203" y="591" width="1" height="22"/>
<rect x="211" y="598" width="1" height="15"/>
<rect x="219" y="606" width="1" height="7"/>
<rect x="227" y="612" width="1" height="1"/>
<rect x="235" y="613" width="1" height="1"/>
<rect x="243" y="613" width="1" height="1"/>
<rect x="251" y="613" width="1" height="4"/>
<rect x="259" y="613" width="1" height="8"/>
<rect x="267" y="613" width="1" height="11"/>
<rect x="275" y="613" width="1" height="13"/>
<rect x="283" y="613" width="1" height="14"/>
<rect x="291" y="613" width="1" height="20"/>
<rect x="299" y="613" width="1" height="24"/>
<rect x="307" y="613" width="1" height="32"/>
<rect x="315" y="613" width="1" height="38"/>
<rect x="323" y="613" width="1" height="42"/>
<rect x="331" y="613" width="1" height="45"/>
<rect x="339" y="613" width="1" height="45"/>
<rect x="347" y="613" width="1" height="47"/>
<rect x="355" y="613" width="1" height="47"/>
<rect x="363" y="613" width="1" height="47"/>
<rect x="371" y="613" width="1" height="46"/>
<rect x="379" y="613" width="1" height="46"/>
<rect x="387" y="613" width="1" height="54"/>
<rect x="395" y="613" width="1" height="53"/>
<rect x="403" y="613" width="1" height="42"/>
<rect x="411" y="613" width="1" height="35"/>
<rect x="419" y="613" width="1" height="26"/>
<rect x="427" y="613" width="1" height="18"/>
<rect x="435" y="613" width="1" height="10"/>
<rect x="443" y="613" width="1" height="2"/>
<rect x="451" y="610" width="1" height="3"/>
<rect x="459" y="605" width="1" height="8"/>
<rect x="467" y="602" width="1" height="11"/>
<rect x="475" y="598" width="1" height="15"/>
<rect x="483" y="599" width="1" height="14"/>
<rect x="491" y="598" width="1" height="15"/>
<rect x="499" y="599" width="1" height="14"/>
<rect x="507" y="600" width="1" height="13"/>
<rect x="515" y="600" width="1" height="13"/>
<rect x="523" y="605" width="1" height="8"/>
<rect x="531" y="607" width="1" height="6"/>
<rect x="539" y="612" width="1" height="1"/>
<rect x="547" y="610" width="1" height="3"/>
<rect x="555" y="608" width="1" height="5"/>
<rect x="563" y="608" width="1" height="5"/>
<rect x="571" y="607" width="1" height="6"/>
<rect x="579" y="601" width="1" height="12"/>
<rect x="587" y="595" width="1" height="18"/>
<rect x="595" y="592" width="1" height="21"/>
<rect x="603" y="590" width="1" height="23"/>
<rect x="611" y="591" width="1" height="22"/>
<rect x="619" y="590" width="1" height="23"/>
<rect x="627" y="599" width="1" height="14"/>
<rect x="635" y="608" width="1" height="5"/>
<rect x="643" y="613" width="1" height="1"/>
<rect x="651" y="613" width="1" height="6"/>
<rect x="659" y="613" width="1" height="12"/>
<rect x="667" y="613" width="1" height="14"/>
<rect x="675" y="613" width="1" height="16"/>
<rect x="683" y="613" width="1" height="17"/>
<rect x="691" y="613" width="1" height="14"/>
<rect x="699" y="613" width="1" height="12"/>
<rect x="707" y="613" width="1" height="11"/>
<rect x="715" y="613" width="1" height="7"/>
<rect x="723" y="613" width="1" height="4"/>
<rect x="731" y="613" width="1" height="6"/>
<rect x="739" y="613" width="1" height="6"/>
<rect x="747" y="613" width="1" height="4"/>
<rect x="755" y="613" width="1" height="1"/>
<rect x="763" y="612" width="1" height="1"/>
<rect x="771" y="612" width="1" height="1"/>
<rect x="779" y="613" width="1" height="2"/>
<rect x="787" y="613" width="1" height="7"/>
<rect x="795" y="613" width="1" height="8"/>
<rect x="803" y="613" width="1" height="11"/>
<rect x="811" y="613" width="1" height="12"/>
<rect x="819" y="613" width="1" height="18"/>
<rect x="827" y="613" width="1" height="22"/>
<rect x="835" y="613" width="1" height="24"/>
<rect x="843" y="613" width="1" height="25"/>
<rect x="851" y="613" width="1" height="24"/>
<rect x="859" y="613" width="1" height="23"/>
<rect x="867" y="613" width="1" height="20"/>
<rect x="875" y="613" width="1" height="20"/>
<rect x="883" y="613" width="1" height="17"/>
<rect x="891" y="613" width="1" height="16"/>
<rect x="899" y="613" width="1" height="13"/>
<rect x="907" y="613" width="1" height="11"/>
<rect x="915" y="613" width="1" height="7"/>
<rect x="923" y="613" width="1" height="5"/>
<rect x="931" y="613" width="1" height="5"/>
<rect x="939" y="613" width="1" height="6"/>
<rect x="947" y="613" width="1" height="3"/>
<rect x="955" y="613" width="1" height="1"/>
<rect x="963" y="613" width="1" height="1"/>
<rect x="971" y="613" width="1" height="1"/>
<rect x="979" y="613" width="1" height="1"/>
<rect x="987" y="613" width="1" height="1"/>
<rect x="995" y="613" width="1" height="1"/>
<rect x="1003" y="613" width="1" height="2"/>
<rect x="1011" y="613" width="1" height="1"/>
<rect x="1019" y="613" width="1" height="1"/>
<rect x="1027" y="613" width="1" height="1"/>
<rect x="1035" y="613" width="1" height="1"/>
<rect x="1043" y="613" width="1" height="1"/>
<rect x="1051" y="610" width="1" height="3"/>
<rect x="1059" y="606" width="1" height="7"/>
<rect x="1067" y="606" width="1" height="7"/>
<rect x="1075" y="603" width="1" height="10"/>
<rect x="1083" y="600" width="1" height="13"/>
<rect x="1091" y="598" width="1" height="15"/>
<rect x="1099" y="597" width="1" height="16"/>
<rect x="1107" y="596" width="1" height="17"/>
<rect x="1115" y="596" width="1" height="17"/>
</g>
<polyline points="3.5,615.2 19.5,605.5 35.5,596.3 51.5,591.1 67.5,586.0 83.5,582.9 99.5,582.3 115.5,581.9 131.5,584.0 147.5,588.5 163.5,589.7 179.5,589.7 195.5,587.0 211.5,586.5 227.5,591.1 243.5,599.4 259.5,607.5 275.5,615.8 291.5,621.3 307.5,627.1 323.5,636.3 339.5,645.5 355.5,652.7 371.5,658.9 387.5,660.9 403.5,661.5 419.5,658.9 435.5,650.7 451.5,641.4 467.5,626.0 483.5,613.1 499.5,605.5 515.5,600.8 531.5,600.8 547.5,603.5 563.5,606.5 579.5,606.5 595.5,604.1 611.5,600.0 627.5,596.7 643.5,598.3 659.5,603.5 675.5,612.3 691.5,621.3 707.5,625.0 723.5,626.0 739.5,624.6 755.5,620.5 771.5,617.8 787.5,616.8 803.5,618.4 819.5,619.9 835.5,625.0 851.5,631.2 867.5,634.2 883.5,635.7 899.5,633.6 915.5,630.8 931.5,626.0 947.5,622.5 963.5,619.3 979.5,616.8 995.5,615.8 1011.5,614.8 1027.5,614.8 1043.5,613.7 1059.5,611.7 1075.5,609.6 1091.5,606.5 1107.5,602.8 1115.5,600.8" fill="none" stroke="#ff0000" stroke-width="1" stroke-dasharray="3,3" shape-rendering="crispEdges"/>
</g>
<text class="t b" x="7" y="581.5" font-size="10" fill="#000" textLength="148" lengthAdjust="spacingAndGlyphs">MACD(12,26,9) 0.001923 0.001338</text>
<g clip-path="url(#crsi)">
<g shape-rendering="crispEdges">
<line x1="4" y1="714.5" x2="1418" y2="714.5" stroke="#c0c0c0" stroke-dasharray="3,3"/>
<line x1="4" y1="765.5" x2="1418" y2="765.5" stroke="#c0c0c0" stroke-dasharray="3,3"/>
</g>
<polyline points="3.5,718.1 11.5,721.3 19.5,728.9 27.5,728.9 35.5,739.8 43.5,731.0 51.5,731.0 59.5,724.8 67.5,718.1 75.5,720.7 83.5,725.4 91.5,739.8 99.5,733.0 107.5,735.1 115.5,739.2 123.5,738.2 131.5,739.8 139.5,738.6 147.5,727.9 155.5,724.8 163.5,728.3 171.5,720.1 179.5,723.8 187.5,726.3 195.5,739.8 203.5,743.3 211.5,747.4 219.5,750.9 227.5,750.1 235.5,746.0 243.5,744.7 251.5,743.9 259.5,750.9 267.5,750.9 275.5,750.9 283.5,748.0 291.5,759.7 299.5,759.1 307.5,766.9 315.5,765.9 323.5,766.9 331.5,764.8 339.5,757.7 347.5,762.8 355.5,759.7 363.5,760.7 371.5,760.7 379.5,757.7 387.5,773.1 395.5,753.6 403.5,739.2 411.5,737.8 419.5,734.5 427.5,732.4 435.5,731.6 443.5,730.0 451.5,727.9 459.5,728.5 467.5,728.5 475.5,727.9 483.5,735.1 491.5,732.0 499.5,737.1 507.5,738.2 515.5,739.2 523.5,745.4 531.5,741.2 539.5,750.1 547.5,734.5 555.5,735.1 563.5,737.8 571.5,738.6 579.5,724.8 587.5,722.8 595.5,726.9 603.5,727.9 611.5,734.5 619.5,730.4 627.5,749.5 635.5,751.5 643.5,752.5 651.5,750.1 659.5,754.6 667.5,748.0 675.5,748.8 683.5,746.8 691.5,741.2 699.5,739.8 707.5,743.3 715.5,736.1 723.5,736.1 731.5,746.8 739.5,741.2 747.5,737.8 755.5,735.7 763.5,732.0 771.5,741.2 779.5,747.4 787.5,751.5 795.5,746.8 803.5,748.0 811.5,749.5 819.5,756.6 827.5,757.7 835.5,751.5 843.5,754.2 851.5,746.8 859.5,748.0 867.5,743.3 875.5,746.8 883.5,742.7 891.5,742.7 899.5,739.8 907.5,741.9 915.5,733.0 923.5,738.6 931.5,743.9 939.5,743.9 947.5,736.1 955.5,733.0 963.5,743.9 971.5,743.9 979.5,739.2 987.5,737.8 995.5,737.8 1003.5,748.8 1011.5,737.1 1019.5,738.6 1027.5,739.8 1035.5,739.8 1043.5,736.1 1051.5,734.5 1059.5,726.9 1067.5,737.1 1075.5,728.9 1083.5,728.9 1091.5,728.9 1099.5,731.0 1107.5,728.9 1115.5,730.0" fill="none" stroke="#1e90ff" stroke-width="1" shape-rendering="crispEdges"/>
</g>
<text class="t b" x="7" y="687.5" font-size="10" fill="#000" textLength="68" lengthAdjust="spacingAndGlyphs">RSI(14) 57.9112</text>
<g shape-rendering="crispEdges">
<rect x="0" y="825" width="1462" height="1" fill="#e3e3e3"/>
<rect x="0" y="826" width="1462" height="1" fill="#ffffff"/>
<rect x="0" y="827" width="1462" height="1" fill="#000"/>
<rect x="0" y="828" width="1462" height="19" fill="#f0f0f0"/>
<rect x="0" y="847" width="1462" height="2" fill="#fafafa"/>
<rect x="112" y="827" width="108" height="19" fill="#fff"/>
<rect x="112" y="827" width="1" height="19" fill="#000"/>
<rect x="219" y="827" width="1" height="19" fill="#000"/>
<rect x="112" y="845" width="108" height="1" fill="#000"/>
<rect x="328" y="831" width="1" height="13" fill="#808080"/>
<rect x="436" y="831" width="1" height="13" fill="#808080"/>
<rect x="545" y="831" width="1" height="13" fill="#808080"/>
</g>
<text class="t" x="15.5" y="842" font-size="12.5" fill="#808080" textLength="84.5" lengthAdjust="spacingAndGlyphs">EURUSD-,Daily</text>
<text class="t" x="122" y="842" font-size="12.5" fill="#000" textLength="87" lengthAdjust="spacingAndGlyphs">AUDUSD-,Daily</text>
<text class="t" x="232.5" y="842" font-size="12.5" fill="#808080" textLength="83" lengthAdjust="spacingAndGlyphs">USDCHF-,Daily</text>
<text class="t" x="340" y="842" font-size="12.5" fill="#808080" textLength="84" lengthAdjust="spacingAndGlyphs">USDCAD-,Daily</text>
<text class="t" x="448" y="842" font-size="12.5" fill="#808080" textLength="87" lengthAdjust="spacingAndGlyphs">USDCNH-,Daily</text>
<polygon points="1437,832.5 1437,839.5 1433.5,836" fill="#a0a0a0"/>
<polygon points="1453,832.5 1453,839.5 1456.5,836" fill="#a0a0a0"/>
</svg></body></html>
